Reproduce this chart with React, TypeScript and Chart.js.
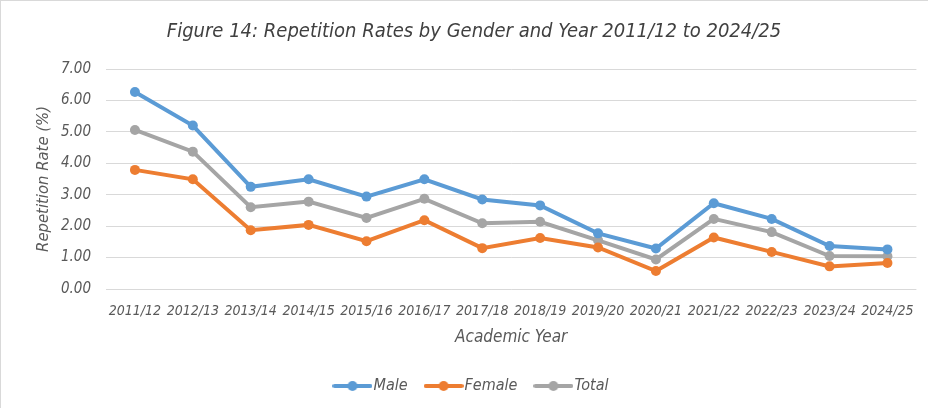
import React, { useEffect, useRef } from "react";
import { Chart, registerables } from "chart.js";

Chart.register(...registerables);

const categories = [
  "2011/12", "2012/13", "2013/14", "2014/15", "2015/16", "2016/17", "2017/18",
  "2018/19", "2019/20", "2020/21", "2021/22", "2022/23", "2023/24", "2024/25",
];
const male = [6.27, 5.2, 3.25, 3.49, 2.94, 3.49, 2.85, 2.66, 1.77, 1.29, 2.73, 2.23, 1.37, 1.26];
const female = [3.79, 3.49, 1.87, 2.04, 1.52, 2.19, 1.3, 1.62, 1.32, 0.57, 1.64, 1.18, 0.72, 0.83];
const total = [5.06, 4.37, 2.6, 2.78, 2.26, 2.87, 2.09, 2.14, 1.55, 0.94, 2.23, 1.81, 1.05, 1.04];

const titleText = "Figure 14: Repetition Rates by Gender and Year 2011/12 to 2024/25";
const yTitle = "Repetition Rate (%)";
const xTitle = "Academic Year";

const BLUE = "#5B9BD5";
const ORANGE = "#ED7D31";
const GRAY = "#A5A5A5";
const FONT = "'Liberation Sans Narrow', 'DejaVu Sans Condensed', Lato, sans-serif";
const TEXT = "#595959";

function legendIcon(color: string): HTMLCanvasElement {
  const c = document.createElement("canvas");
  c.width = 40;
  c.height = 12;
  const ctx = c.getContext("2d")!;
  ctx.strokeStyle = color;
  ctx.lineWidth = 4;
  ctx.lineCap = "round";
  ctx.beginPath();
  ctx.moveTo(2, 6);
  ctx.lineTo(38, 6);
  ctx.stroke();
  ctx.fillStyle = color;
  ctx.beginPath();
  ctx.arc(20, 6, 5, 0, Math.PI * 2);
  ctx.fill();
  return c;
}

export default function App() {
  const ref = useRef<HTMLCanvasElement | null>(null);
  useEffect(() => {
    document.body.style.margin = "0";
    if (!ref.current) return;
    const icons = [legendIcon(BLUE), legendIcon(ORANGE), legendIcon(GRAY)];
    const mk = (label: string, data: number[], color: string) => ({
      label,
      data,
      borderColor: color,
      backgroundColor: color,
      pointBackgroundColor: color,
      pointBorderColor: color,
      borderWidth: 4,
      pointRadius: 5,
      pointBorderWidth: 0,
      tension: 0,
    });
    const chart = new Chart(ref.current, {
      type: "line",
      data: {
        labels: categories,
        datasets: [mk("Male", male, BLUE), mk("Female", female, ORANGE), mk("Total", total, GRAY)],
      },
      options: {
        animation: false,
        responsive: false,
        maintainAspectRatio: false,
        layout: { padding: { left: 30, right: 11, top: 0, bottom: 4 } },
        plugins: {
          title: {
            display: true,
            text: titleText,
            color: "#404040",
            font: { family: FONT, size: 20, style: "italic", weight: "normal", lineHeight: 1.2 },
            padding: { top: 19, bottom: 25 },
          },
          legend: {
            position: "bottom",
            labels: {
              usePointStyle: true,
              pointStyleWidth: 26,
              boxHeight: 12,
              padding: 23,
              color: TEXT,
              font: { family: FONT, size: 16, style: "italic" },
              generateLabels: (ch: any) =>
                ch.data.datasets.map((d: any, i: number) => ({
                  text: d.label,
                  fillStyle: d.borderColor,
                  strokeStyle: d.borderColor,
                  lineWidth: 0,
                  pointStyle: icons[i],
                  datasetIndex: i,
                  hidden: false,
                  fontColor: TEXT,
                })),
            },
          },
          tooltip: { enabled: false },
        },
        scales: {
          x: {
            offset: true,
            grid: { display: false, drawTicks: false },
            border: { display: false },
            ticks: {
              color: TEXT,
              padding: 14,
              maxRotation: 0,
              autoSkip: false,
              font: { family: FONT, size: 14, style: "italic" },
            },
            title: {
              display: true,
              text: xTitle,
              color: TEXT,
              font: { family: FONT, size: 17, style: "italic" },
              padding: { top: 8, bottom: 7 },
            },
            afterFit: (s: any) => {
              s.height = 66;
            },
          },
          y: {
            min: 0,
            max: 7,
            grid: { color: "#D9D9D9", lineWidth: 1, drawTicks: false },
            border: { display: false },
            ticks: {
              stepSize: 1,
              color: TEXT,
              padding: 15,
              font: { family: FONT, size: 15, style: "italic" },
              callback: (v: any) => Number(v).toFixed(2),
            },
            title: {
              display: true,
              text: yTitle,
              color: TEXT,
              font: { family: FONT, size: 16.5, style: "italic" },
              padding: { top: 3, bottom: 0 },
            },
            afterFit: (s: any) => {
              s.width = 75;
            },
          },
        },
      },
    });
    return () => chart.destroy();
  }, []);
  return (
    <div
      style={{
        width: 927,
        height: 407,
        borderTop: "1px solid #D9D9D9",
        borderLeft: "1px solid #D9D9D9",
        background: "#fff",
      }}
    >
      <canvas ref={ref} width={927} height={407} style={{ display: "block" }} />
    </div>
  );
}
